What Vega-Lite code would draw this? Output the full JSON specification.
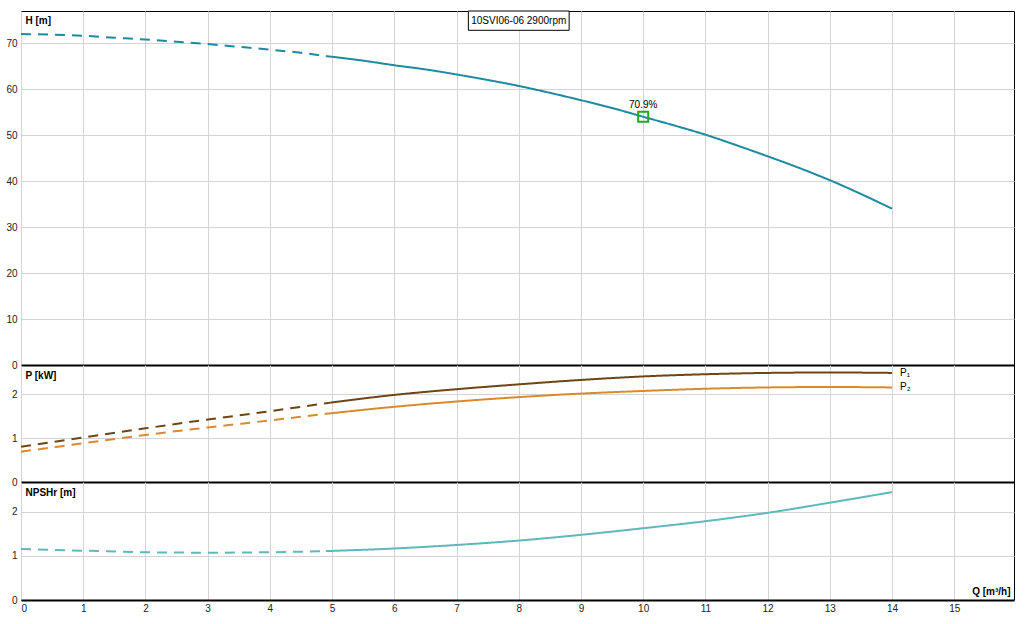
{
  "$schema": "https://vega.github.io/schema/vega-lite/v6.json",
  "padding": {"left": 0, "top": 10, "right": 5, "bottom": 5},
  "spacing": 0,
  "bounds": "flush",
  "datasets": {
    "head": [
      {"q": 0, "v": 72.0, "seg": "dash"}, {"q": 0.5, "v": 71.85, "seg": "dash"}, {"q": 1, "v": 71.6, "seg": "dash"},
      {"q": 1.5, "v": 71.2, "seg": "dash"}, {"q": 2, "v": 70.8, "seg": "dash"}, {"q": 2.5, "v": 70.3, "seg": "dash"},
      {"q": 3, "v": 69.8, "seg": "dash"}, {"q": 3.5, "v": 69.2, "seg": "dash"}, {"q": 4, "v": 68.6, "seg": "dash"},
      {"q": 4.5, "v": 67.9, "seg": "dash"}, {"q": 4.9, "v": 67.2, "seg": "dash"},
      {"q": 4.9, "v": 67.2, "seg": "solid"}, {"q": 5.5, "v": 66.2, "seg": "solid"}, {"q": 6, "v": 65.2, "seg": "solid"},
      {"q": 6.5, "v": 64.3, "seg": "solid"}, {"q": 7, "v": 63.2, "seg": "solid"}, {"q": 7.5, "v": 62.0, "seg": "solid"},
      {"q": 8, "v": 60.7, "seg": "solid"}, {"q": 8.5, "v": 59.2, "seg": "solid"}, {"q": 9, "v": 57.6, "seg": "solid"},
      {"q": 9.5, "v": 55.9, "seg": "solid"}, {"q": 10, "v": 54.0, "seg": "solid"}, {"q": 10.5, "v": 52.1, "seg": "solid"},
      {"q": 11, "v": 50.1, "seg": "solid"}, {"q": 11.5, "v": 47.8, "seg": "solid"}, {"q": 12, "v": 45.4, "seg": "solid"},
      {"q": 12.5, "v": 42.9, "seg": "solid"}, {"q": 13, "v": 40.2, "seg": "solid"}, {"q": 13.5, "v": 37.2, "seg": "solid"},
      {"q": 14, "v": 34.0, "seg": "solid"}
    ],
    "bep": [{"q": 10, "v": 54.0, "eff": "70.9%"}],
    "power": [
      {"series": "P₁", "q": 0, "v": 0.80, "seg": "dash"}, {"series": "P₁", "q": 1, "v": 1.01, "seg": "dash"},
      {"series": "P₁", "q": 2, "v": 1.22, "seg": "dash"}, {"series": "P₁", "q": 3, "v": 1.42, "seg": "dash"},
      {"series": "P₁", "q": 4, "v": 1.61, "seg": "dash"}, {"series": "P₁", "q": 4.9, "v": 1.79, "seg": "dash"},
      {"series": "P₁", "q": 4.9, "v": 1.79, "seg": "solid"}, {"series": "P₁", "q": 6, "v": 1.98, "seg": "solid"},
      {"series": "P₁", "q": 7, "v": 2.11, "seg": "solid"}, {"series": "P₁", "q": 8, "v": 2.22, "seg": "solid"},
      {"series": "P₁", "q": 9, "v": 2.32, "seg": "solid"}, {"series": "P₁", "q": 10, "v": 2.40, "seg": "solid"},
      {"series": "P₁", "q": 11, "v": 2.45, "seg": "solid"}, {"series": "P₁", "q": 12, "v": 2.48, "seg": "solid"},
      {"series": "P₁", "q": 13, "v": 2.49, "seg": "solid"}, {"series": "P₁", "q": 14, "v": 2.48, "seg": "solid"},
      {"series": "P₂", "q": 0, "v": 0.69, "seg": "dash"}, {"series": "P₂", "q": 1, "v": 0.88, "seg": "dash"},
      {"series": "P₂", "q": 2, "v": 1.07, "seg": "dash"}, {"series": "P₂", "q": 3, "v": 1.24, "seg": "dash"},
      {"series": "P₂", "q": 4, "v": 1.40, "seg": "dash"}, {"series": "P₂", "q": 4.9, "v": 1.55, "seg": "dash"},
      {"series": "P₂", "q": 4.9, "v": 1.55, "seg": "solid"}, {"series": "P₂", "q": 6, "v": 1.71, "seg": "solid"},
      {"series": "P₂", "q": 7, "v": 1.83, "seg": "solid"}, {"series": "P₂", "q": 8, "v": 1.93, "seg": "solid"},
      {"series": "P₂", "q": 9, "v": 2.01, "seg": "solid"}, {"series": "P₂", "q": 10, "v": 2.07, "seg": "solid"},
      {"series": "P₂", "q": 11, "v": 2.12, "seg": "solid"}, {"series": "P₂", "q": 12, "v": 2.15, "seg": "solid"},
      {"series": "P₂", "q": 13, "v": 2.16, "seg": "solid"}, {"series": "P₂", "q": 14, "v": 2.15, "seg": "solid"}
    ],
    "npsh": [
      {"q": 0, "v": 1.16, "seg": "dash"}, {"q": 1, "v": 1.12, "seg": "dash"}, {"q": 2, "v": 1.085, "seg": "dash"},
      {"q": 3, "v": 1.075, "seg": "dash"}, {"q": 4, "v": 1.085, "seg": "dash"}, {"q": 4.9, "v": 1.11, "seg": "dash"},
      {"q": 4.9, "v": 1.11, "seg": "solid"}, {"q": 6, "v": 1.17, "seg": "solid"}, {"q": 7, "v": 1.25, "seg": "solid"},
      {"q": 8, "v": 1.35, "seg": "solid"}, {"q": 9, "v": 1.48, "seg": "solid"}, {"q": 10, "v": 1.63, "seg": "solid"},
      {"q": 11, "v": 1.79, "seg": "solid"}, {"q": 12, "v": 1.98, "seg": "solid"}, {"q": 13, "v": 2.21, "seg": "solid"},
      {"q": 14, "v": 2.45, "seg": "solid"}
    ]
  },
  "vconcat": [
    {
      "width": 993,
      "height": 354,
      "layer": [
        {
          "data": {"name": "head"},
          "mark": {"type": "line", "color": "#1e8aa0", "strokeWidth": 2, "interpolate": "monotone"},
          "encoding": {
            "x": {
              "field": "q", "type": "quantitative",
              "scale": {"domain": [0, 15.96], "nice": false},
              "axis": {"values": [0,1,2,3,4,5,6,7,8,9,10,11,12,13,14,15], "labels": false, "labelPadding": 0, "minExtent": 0, "maxExtent": 0, "title": null, "domain": true, "domainColor": "black", "domainWidth": 2}
            },
            "y": {
              "field": "v", "type": "quantitative",
              "scale": {"domain": [0, 77], "nice": false},
              "axis": {"values": [0,10,20,30,40,50,60,70], "title": "H [m]", "titleAngle": 0, "titleAlign": "left", "titleBaseline": "top", "titleX": 4, "titleY": 4, "titleFontSize": 10, "titleFontWeight": "bold", "titleColor": "black"}
            },
            "strokeDash": {"field": "seg", "type": "nominal", "scale": {"domain": ["dash", "solid"], "range": [[10, 7], [1, 0]]}, "legend": null}
          }
        },
        {
          "data": {"values": [{}]},
          "mark": {"type": "rect", "fill": "white", "stroke": "black", "strokeWidth": 1},
          "encoding": {"x": {"datum": 7.19}, "x2": {"datum": 8.81}, "y": {"datum": 77}, "y2": {"datum": 72.8}}
        },
        {
          "data": {"values": [{}]},
          "mark": {"type": "text", "text": "10SVI06-06 2900rpm", "fontSize": 10, "color": "black", "baseline": "middle"},
          "encoding": {"x": {"datum": 8}, "y": {"datum": 74.9}}
        },
        {
          "data": {"name": "bep"},
          "mark": {"type": "point", "shape": "square", "size": 100, "filled": false, "stroke": "#22a822", "strokeWidth": 2, "opacity": 1},
          "encoding": {"x": {"field": "q", "type": "quantitative"}, "y": {"field": "v", "type": "quantitative"}}
        },
        {
          "data": {"name": "bep"},
          "mark": {"type": "text", "fontSize": 10, "color": "black", "dy": -12, "baseline": "middle"},
          "encoding": {"x": {"field": "q", "type": "quantitative"}, "y": {"field": "v", "type": "quantitative"}, "text": {"field": "eff"}}
        }
      ]
    },
    {
      "width": 993,
      "height": 117,
      "layer": [
        {
          "data": {"name": "power"},
          "mark": {"type": "line", "strokeWidth": 2, "interpolate": "monotone"},
          "encoding": {
            "x": {
              "field": "q", "type": "quantitative",
              "scale": {"domain": [0, 15.96], "nice": false},
              "axis": {"values": [0,1,2,3,4,5,6,7,8,9,10,11,12,13,14,15], "labels": false, "labelPadding": 0, "minExtent": 0, "maxExtent": 0, "title": null, "domain": true, "domainColor": "black", "domainWidth": 2}
            },
            "y": {
              "field": "v", "type": "quantitative",
              "scale": {"domain": [0, 2.66], "nice": false},
              "axis": {"values": [0,1,2], "title": "P [kW]", "titleAngle": 0, "titleAlign": "left", "titleBaseline": "top", "titleX": 4, "titleY": 5, "titleFontSize": 10, "titleFontWeight": "bold", "titleColor": "black"}
            },
            "color": {"field": "series", "type": "nominal", "scale": {"domain": ["P₁", "P₂"], "range": ["#6e4516", "#d98a2e"]}, "legend": null},
            "strokeDash": {"field": "seg", "type": "nominal", "scale": {"domain": ["dash", "solid"], "range": [[10, 7], [1, 0]]}, "legend": null}
          }
        },
        {
          "data": {"name": "power"},
          "transform": [{"filter": "datum.q == 14"}],
          "mark": {"type": "text", "align": "left", "dx": 8, "fontSize": 10, "color": "black", "baseline": "middle"},
          "encoding": {"x": {"field": "q", "type": "quantitative"}, "y": {"field": "v", "type": "quantitative"}, "text": {"field": "series"}}
        }
      ]
    },
    {
      "width": 993,
      "height": 118,
      "data": {"name": "npsh"},
      "mark": {"type": "line", "color": "#5fb8bb", "strokeWidth": 2, "interpolate": "monotone"},
      "encoding": {
        "x": {
          "field": "q", "type": "quantitative",
          "scale": {"domain": [0, 15.96], "nice": false},
          "axis": {"values": [0,1,2,3,4,5,6,7,8,9,10,11,12,13,14,15], "labelPadding": 3, "domain": true, "domainColor": "black", "domainWidth": 2, "title": "Q [m³/h]", "titleAlign": "right", "titleBaseline": "alphabetic", "titleX": 989, "titleY": -6, "titleFontSize": 10, "titleFontWeight": "bold", "titleColor": "black"}
        },
        "y": {
          "field": "v", "type": "quantitative",
          "scale": {"domain": [0, 2.68], "nice": false},
          "axis": {"values": [0,1,2], "title": "NPSHr [m]", "titleAngle": 0, "titleAlign": "left", "titleBaseline": "top", "titleX": 4, "titleY": 5, "titleFontSize": 10, "titleFontWeight": "bold", "titleColor": "black"}
        },
        "strokeDash": {"field": "seg", "type": "nominal", "scale": {"domain": ["dash", "solid"], "range": [[10, 7], [1, 0]]}, "legend": null}
      }
    }
  ],
  "config": {
    "font": "Liberation Sans",
    "view": {"stroke": "black", "strokeWidth": 1},
    "axis": {"grid": true, "gridColor": "#d4d4d4", "gridWidth": 1, "ticks": false, "domain": false, "labelFontSize": 10, "labelColor": "#222", "labelPadding": 4},
    "axisY": {"minExtent": 20, "maxExtent": 20}
  }
}
